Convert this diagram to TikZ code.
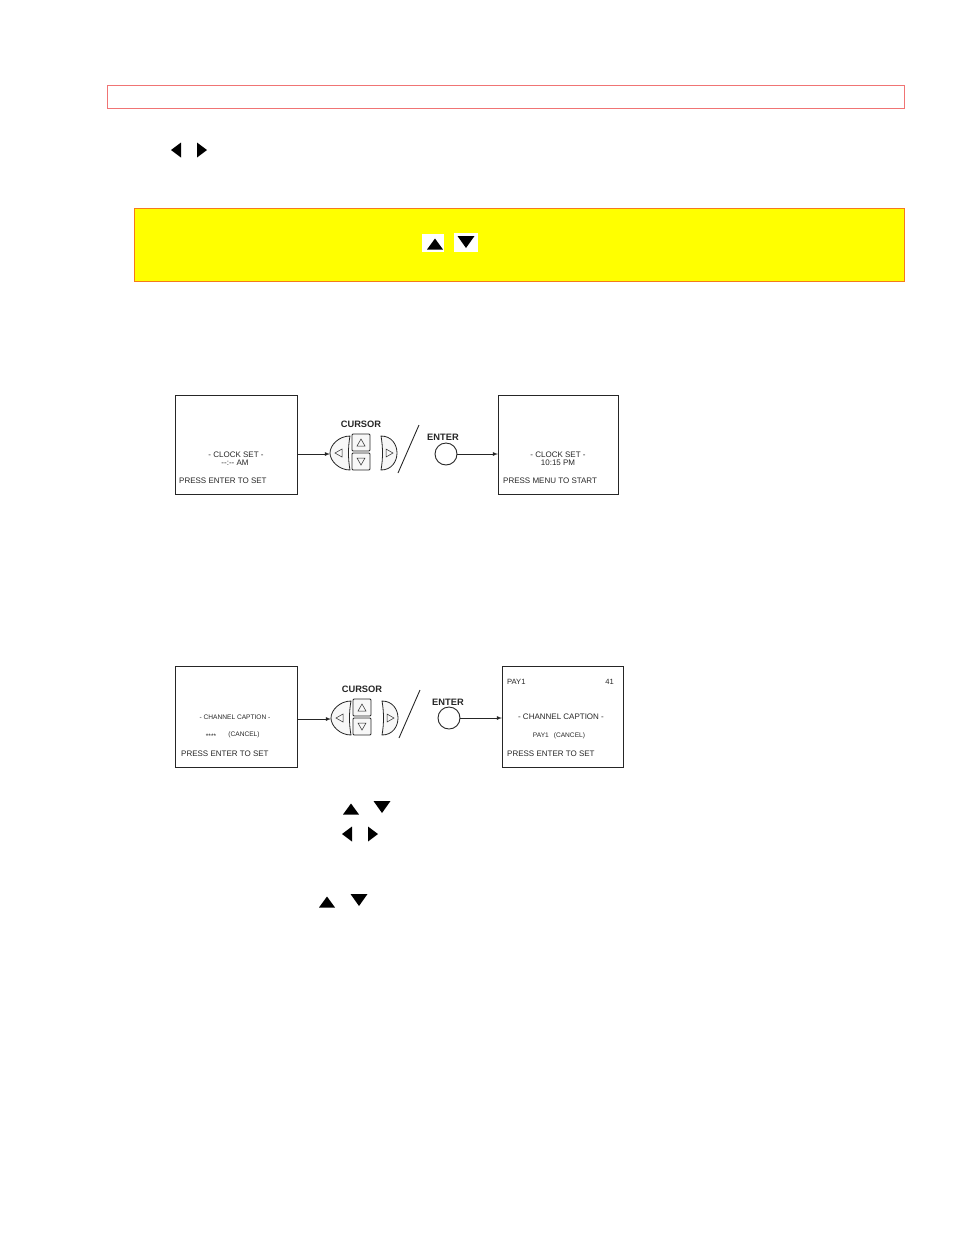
\documentclass[tikz,border=0pt]{standalone}
\usepackage{fontspec}
\setmainfont{Liberation Sans}
\definecolor{rougecadre}{HTML}{F07474}
\definecolor{orangecadre}{HTML}{F47A1C}
\definecolor{jaune}{HTML}{FFFF00}
\definecolor{encre}{HTML}{262626}
\begin{document}
\begin{tikzpicture}[x=1pt,y=-1pt]
	% Styles
	\tikzstyle{fleche}=[-latex,line width=0.8pt,encre]
	\tikzstyle{ecran}=[draw=encre,line width=0.9pt,rectangle,anchor=north west,inner sep=0pt,minimum width=122pt,minimum height=101pt]
	\tikzstyle{texte}=[font=\fontsize{8}{9}\selectfont,inner sep=0pt,text=encre]
	\tikzstyle{petit}=[font=\fontsize{6.6}{8}\selectfont,inner sep=0pt,text=encre]
	\tikzstyle{titre}=[font=\bfseries\fontsize{9.3}{10}\selectfont,inner sep=0pt,text=encre]
	\tikzstyle{bouton}=[draw=encre,line width=0.9pt,circle,minimum size=22pt,inner sep=0pt]
	\tikzstyle{touche}=[draw=encre,line width=0.8pt,fill=black!3]
	\tikzstyle{icone}=[black]
	% Triangles
	\def\TriHaut#1#2{\fill[icone] (#1-8,#2+5.5) -- (#1+8,#2+5.5) -- (#1,#2-5.5) -- cycle;}
	\def\TriBas#1#2{\fill[icone] (#1-8.5,#2-6) -- (#1+8.5,#2-6) -- (#1,#2+6) -- cycle;}
	\def\TriGauche#1#2{\fill[icone] (#1+5,#2-7.5) -- (#1+5,#2+7.5) -- (#1-5,#2) -- cycle;}
	\def\TriDroite#1#2{\fill[icone] (#1-5,#2-7.5) -- (#1-5,#2+7.5) -- (#1+5,#2) -- cycle;}
	% Pave CURSOR (centre, nom)
	\def\Pave#1#2#3{
		\begin{scope}[shift={(#1,#2)}]
			\node[titre] (#3titre) at (0,-28) {CURSOR};
			\draw[touche,rounded corners=1pt] (-9,-18) rectangle (9,-1);
			\draw[touche,rounded corners=1pt] (-9,1) rectangle (9,18);
			\draw[touche] (-11,-16) .. controls (-22,-16) and (-31,-7) .. (-31,1) .. controls (-31,9) and (-22,18) .. (-11,18) .. controls (-13,7) and (-13,-5) .. cycle;
			\draw[touche] (20,-16) .. controls (31,-16) and (36,-7) .. (36,1) .. controls (36,9) and (31,18) .. (20,18) .. controls (22,7) and (22,-5) .. cycle;
			\draw[encre,line width=0.5pt] (-4,-6) -- (4,-6) -- (0,-13) -- cycle;
			\draw[encre,line width=0.5pt] (-4,6) -- (4,6) -- (0,13) -- cycle;
			\draw[encre,line width=0.5pt] (-19,-3) -- (-19,5) -- (-26,1) -- cycle;
			\draw[encre,line width=0.5pt] (25,-3) -- (25,5) -- (32,1) -- cycle;
			\draw[encre,line width=0.9pt] (37,21) -- (58,-27);
			\coordinate (#3G) at (-31,2);
		\end{scope}
	}
	\useasboundingbox (0,0) rectangle (954,1235);
	% Cadres du haut
	\draw[rougecadre,line width=1pt] (107,85) rectangle (904,108);
	\TriGauche{176}{150}
	\TriDroite{202}{150}
	\draw[orangecadre,fill=jaune,line width=1pt] (134,208) rectangle (904,281);
	\fill[white] (422,234) rectangle (444,252);
	\fill[white] (454,233) rectangle (478,252);
	\TriHaut{435}{244}
	\TriBas{466}{242}
	% Premier schema : CLOCK SET
	\node[ecran,minimum height=99pt] (ecranA) at (175,395) {};
	\node[texte] (horlogeA) at (236,455) {- CLOCK SET -};
	\node[texte] (heureA) at (235,463) {{-}{-}:{-}{-} AM};
	\node[texte,anchor=west] (consigneA) at (179,481) {PRESS ENTER TO SET};
	\Pave{361}{452}{paveA}
	\node[titre] (titreEntreeA) at (443,437) {ENTER};
	\node[bouton] (entreeA) at (446,454) {};
	\node[ecran,minimum width=120pt,minimum height=99pt] (ecranB) at (498,395) {};
	\node[texte] (horlogeB) at (558,455) {- CLOCK SET -};
	\node[texte] (heureB) at (558,463) {10:15 PM};
	\node[texte,anchor=west] (consigneB) at (503,481) {PRESS MENU TO START};
	\draw[fleche] (ecranA.east |- paveAG) -- (paveAG);
	\draw[fleche] (entreeA.east) -- (entreeA.east -| ecranB.west);
	% Second schema : CHANNEL CAPTION
	\node[ecran] (ecranC) at (175,666) {};
	\node[petit] (legendeC) at (235,717) {- CHANNEL CAPTION -};
	\node[petit] (etoilesC) at (211,736) {****};
	\node[petit] (annulC) at (244,735) {(CANCEL)};
	\node[texte,anchor=west] (consigneC) at (181,754) {PRESS ENTER TO SET};
	\Pave{362}{717}{paveC}
	\node[titre] (titreEntreeC) at (448,702) {ENTER};
	\node[bouton] (entreeC) at (449,718) {};
	\node[ecran,minimum width=121pt] (ecranD) at (502,666) {};
	\node[petit,font=\fontsize{7.6}{8}\selectfont,anchor=west] (canalD) at (507,682) {PAY1};
	\node[petit,font=\fontsize{7.6}{8}\selectfont,anchor=east] (numeroD) at (614,682) {41};
	\node[texte] (legendeD) at (561,717) {- CHANNEL CAPTION -};
	\node[petit] (annulD) at (559,736) {PAY1\hspace{5pt}(CANCEL)};
	\node[texte,anchor=west] (consigneD) at (507,754) {PRESS ENTER TO SET};
	\draw[fleche] (ecranC.east |- paveCG) -- (paveCG);
	\draw[fleche] (entreeC.east) -- (entreeC.east -| ecranD.west);
	% Triangles du bas
	\TriHaut{351}{809}
	\TriBas{382}{807}
	\TriGauche{347}{834}
	\TriDroite{373}{834}
	\TriHaut{327}{902}
	\TriBas{359}{900}
\end{tikzpicture}
\end{document}
